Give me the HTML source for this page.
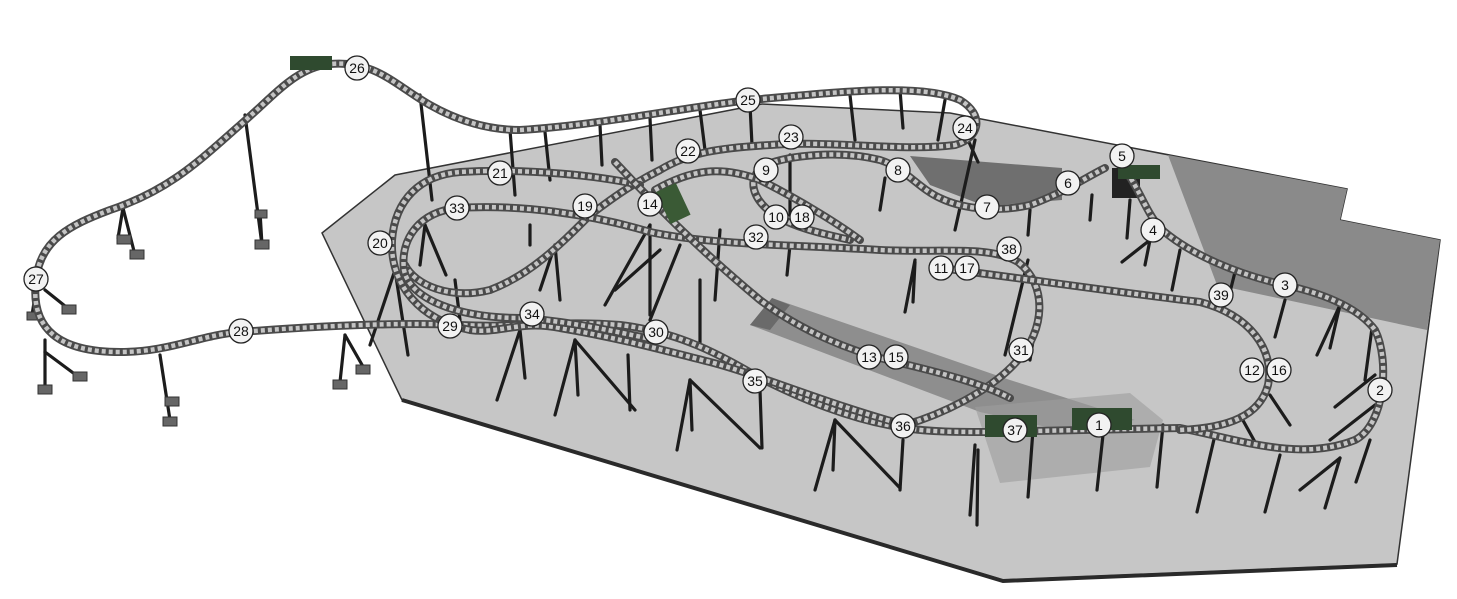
<!DOCTYPE html>
<html><head><meta charset="utf-8"><style>
html,body{margin:0;padding:0;background:#fff;}
svg{display:block;}
.lbl circle{fill:#f2f2f2;stroke:#222;stroke-width:1.3;}
.lbl text{font-family:"Liberation Sans",sans-serif;font-size:14px;fill:#111;text-anchor:middle;dominant-baseline:central;}
.tb{fill:none;stroke:#4a4a4a;stroke-width:8;stroke-linecap:round;}
.tt{fill:none;stroke:#c4c4c4;stroke-width:4.5;stroke-dasharray:4 3;stroke-linecap:butt;}
.sp line{stroke:#1c1c1c;stroke-width:3.2;stroke-linecap:round;}
</style></head><body>
<svg width="1457" height="599" viewBox="0 0 1457 599" xmlns="http://www.w3.org/2000/svg">
<defs>
<path id="t1" d="M36,280 C40,240 70,225 110,210 C170,190 200,160 240,125 C275,95 295,68 330,64 C375,60 395,85 430,105 C460,122 490,130 520,130 C600,125 680,108 750,100 C830,93 920,82 960,100 C985,115 980,138 955,145 C900,152 830,140 770,145 C720,148 690,152 660,170 C630,185 610,200 590,215 C560,245 530,275 490,290 C450,300 415,285 405,265"/>
<path id="t2" d="M36,280 C30,330 60,352 120,352 C170,352 200,335 240,332 C320,326 400,322 460,325 C520,328 560,320 620,325 C680,332 720,355 760,378 C800,398 850,420 905,428 C930,432 960,432 985,432 L1180,428 C1240,440 1300,462 1355,440 C1385,425 1390,360 1375,330 C1360,310 1330,295 1285,285 C1240,275 1190,255 1160,228 C1145,210 1140,190 1125,170"/>
<path id="t3" d="M1105,168 C1085,178 1065,192 1030,205 C1000,212 965,210 940,198 C918,188 905,168 880,160 C840,150 790,155 765,165 C745,178 752,200 776,216 C800,230 830,235 850,240"/>
<path id="t4" d="M640,185 C600,176 530,168 460,172 C420,175 395,200 392,240 C390,285 420,320 470,330 C500,334 520,320 560,328 C620,338 670,352 710,362 C760,375 830,405 905,425"/>
<path id="t5" d="M457,208 C420,212 400,238 404,270 C410,300 460,318 520,318 C560,320 610,330 655,340"/>
<path id="t6" d="M457,208 C520,204 590,214 650,232 C710,245 800,245 880,250 C940,253 990,245 1018,262 C1048,285 1045,330 1018,360 C990,392 940,415 905,425"/>
<path id="t7" d="M940,268 C1020,278 1100,290 1200,302 C1250,315 1275,350 1268,385 C1260,415 1230,428 1180,430"/>
<path id="t8" d="M615,162 C660,210 700,250 760,300 C800,330 850,352 900,363 C950,375 985,385 1010,398"/>
<path id="t9" d="M655,190 C690,170 720,165 760,180 C800,200 840,225 860,240"/>
</defs>
<!-- floor -->
<polygon points="395,175 762,104 950,113 1347,189 1340,220 1440,240 1397,564 1003,580 402,400 322,233" fill="#c6c6c6" stroke="#333" stroke-width="1.5"/>
<polyline points="402,400 1003,581 1397,565" fill="none" stroke="#2a2a2a" stroke-width="4"/>
<polygon points="1168,155 1347,189 1340,220 1440,240 1427,330 1240,290 1217,285" fill="#8a8a8a"/>
<polygon points="910,156 1062,168 1062,200 985,206 930,185" fill="#6f6f6f"/>
<polygon points="750,325 772,298 1010,380 1135,420 1060,430 980,412" fill="#8e8e8e"/>
<polygon points="750,325 772,298 790,305 770,330" fill="#6a6a6a"/>
<polygon points="975,407 1130,393 1163,420 1150,467 1000,483" fill="#9c9c9c" opacity="0.6"/>
<rect x="1112" y="168" width="28" height="30" fill="#222"/>
<!-- supports -->
<g class="sp">
<line x1="245" y1="115" x2="262" y2="245"/><line x1="262" y1="245" x2="260" y2="212"/>
<line x1="420" y1="95" x2="432" y2="200"/><line x1="123" y1="208" x2="135" y2="255"/><line x1="123" y1="208" x2="118" y2="238"/>
<line x1="45" y1="290" x2="70" y2="310"/><line x1="36" y1="290" x2="32" y2="315"/>
<line x1="45" y1="340" x2="45" y2="390"/><line x1="45" y1="352" x2="80" y2="378"/>
<line x1="160" y1="355" x2="170" y2="420"/><line x1="345" y1="335" x2="340" y2="382"/><line x1="345" y1="335" x2="365" y2="370"/>
<line x1="510" y1="130" x2="515" y2="195"/><line x1="545" y1="132" x2="550" y2="180"/><line x1="600" y1="125" x2="602" y2="165"/>
<line x1="650" y1="118" x2="652" y2="160"/><line x1="700" y1="110" x2="705" y2="150"/><line x1="750" y1="105" x2="752" y2="145"/>
<line x1="850" y1="95" x2="855" y2="140"/><line x1="900" y1="90" x2="903" y2="128"/><line x1="945" y1="100" x2="938" y2="140"/>
<line x1="975" y1="140" x2="955" y2="230"/><line x1="968" y1="140" x2="978" y2="162"/>
<line x1="790" y1="155" x2="790" y2="215"/><line x1="885" y1="178" x2="880" y2="210"/><line x1="1030" y1="210" x2="1028" y2="235"/>
<line x1="1092" y1="195" x2="1090" y2="220"/><line x1="1130" y1="200" x2="1127" y2="238"/>
<line x1="1150" y1="240" x2="1122" y2="262"/><line x1="1150" y1="240" x2="1145" y2="265"/>
<line x1="1180" y1="250" x2="1172" y2="290"/><line x1="1235" y1="272" x2="1228" y2="300"/>
<line x1="1285" y1="300" x2="1275" y2="337"/><line x1="1340" y1="305" x2="1317" y2="355"/><line x1="1340" y1="305" x2="1330" y2="348"/>
<line x1="1372" y1="328" x2="1365" y2="380"/><line x1="1375" y1="375" x2="1335" y2="407"/><line x1="1375" y1="405" x2="1330" y2="440"/>
<line x1="1370" y1="440" x2="1356" y2="482"/><line x1="1340" y1="458" x2="1300" y2="490"/><line x1="1340" y1="458" x2="1325" y2="508"/>
<line x1="1280" y1="455" x2="1265" y2="512"/><line x1="1270" y1="395" x2="1290" y2="425"/><line x1="1240" y1="415" x2="1255" y2="442"/>
<line x1="1215" y1="435" x2="1197" y2="512"/><line x1="1163" y1="425" x2="1157" y2="487"/><line x1="1103" y1="435" x2="1097" y2="490"/>
<line x1="1033" y1="430" x2="1028" y2="497"/><line x1="975" y1="445" x2="970" y2="515"/><line x1="978" y1="450" x2="977" y2="525"/>
<line x1="1040" y1="295" x2="1030" y2="360"/><line x1="1028" y1="260" x2="1005" y2="355"/>
<line x1="915" y1="260" x2="905" y2="312"/><line x1="915" y1="262" x2="913" y2="302"/>
<line x1="790" y1="245" x2="787" y2="275"/><line x1="720" y1="230" x2="715" y2="300"/>
<line x1="650" y1="225" x2="605" y2="305"/><line x1="650" y1="225" x2="650" y2="315"/><line x1="660" y1="250" x2="615" y2="290"/>
<line x1="680" y1="245" x2="650" y2="320"/><line x1="700" y1="280" x2="700" y2="345"/>
<line x1="555" y1="245" x2="540" y2="290"/><line x1="555" y1="245" x2="560" y2="300"/>
<line x1="530" y1="225" x2="530" y2="245"/><line x1="455" y1="280" x2="460" y2="320"/>
<line x1="395" y1="270" x2="370" y2="345"/><line x1="395" y1="270" x2="408" y2="355"/>
<line x1="425" y1="225" x2="420" y2="265"/><line x1="425" y1="225" x2="446" y2="275"/>
<line x1="520" y1="330" x2="497" y2="400"/><line x1="520" y1="330" x2="525" y2="378"/>
<line x1="575" y1="340" x2="555" y2="415"/><line x1="575" y1="340" x2="578" y2="395"/><line x1="575" y1="340" x2="635" y2="410"/>
<line x1="628" y1="355" x2="630" y2="410"/>
<line x1="690" y1="380" x2="677" y2="450"/><line x1="690" y1="380" x2="692" y2="430"/><line x1="690" y1="380" x2="760" y2="448"/>
<line x1="760" y1="390" x2="762" y2="448"/>
<line x1="835" y1="420" x2="815" y2="490"/><line x1="835" y1="420" x2="833" y2="470"/><line x1="835" y1="420" x2="900" y2="488"/>
<line x1="903" y1="440" x2="900" y2="490"/>
</g>
<!-- support feet -->
<g fill="#666" stroke="#333" stroke-width="1">
<rect x="117" y="235" width="14" height="9"/><rect x="130" y="250" width="14" height="9"/>
<rect x="255" y="240" width="14" height="9"/><rect x="255" y="210" width="12" height="8"/>
<rect x="62" y="305" width="14" height="9"/><rect x="27" y="312" width="12" height="8"/>
<rect x="38" y="385" width="14" height="9"/><rect x="73" y="372" width="14" height="9"/>
<rect x="163" y="417" width="14" height="9"/><rect x="165" y="397" width="14" height="9"/>
<rect x="333" y="380" width="14" height="9"/><rect x="356" y="365" width="14" height="9"/>
</g>
<use href="#t1" class="tb"/><use href="#t1" class="tt"/>
<use href="#t2" class="tb"/><use href="#t2" class="tt"/>
<use href="#t3" class="tb"/><use href="#t3" class="tt"/>
<use href="#t4" class="tb"/><use href="#t4" class="tt"/>
<use href="#t5" class="tb"/><use href="#t5" class="tt"/>
<use href="#t6" class="tb"/><use href="#t6" class="tt"/>
<use href="#t7" class="tb"/><use href="#t7" class="tt"/>
<use href="#t8" class="tb"/><use href="#t8" class="tt"/>
<use href="#t9" class="tb"/><use href="#t9" class="tt"/>
<!-- trains -->
<rect x="290" y="56" width="42" height="14" fill="#2f4a2f"/>
<rect x="662" y="186" width="22" height="35" fill="#3a5a35" transform="rotate(-25 673 203)"/>
<rect x="1118" y="165" width="42" height="14" fill="#2f4a2f"/>
<rect x="985" y="415" width="52" height="22" fill="#2f4a2f"/>
<rect x="1072" y="408" width="60" height="22" fill="#2f4a2f"/>
<g class="lbl">
<g transform="translate(357,68)"><circle r="12"/><text>26</text></g>
<g transform="translate(748,100)"><circle r="12"/><text>25</text></g>
<g transform="translate(965,128)"><circle r="12"/><text>24</text></g>
<g transform="translate(791,137)"><circle r="12"/><text>23</text></g>
<g transform="translate(688,151)"><circle r="12"/><text>22</text></g>
<g transform="translate(500,173)"><circle r="12"/><text>21</text></g>
<g transform="translate(766,170)"><circle r="12"/><text>9</text></g>
<g transform="translate(898,170)"><circle r="12"/><text>8</text></g>
<g transform="translate(1122,156)"><circle r="12"/><text>5</text></g>
<g transform="translate(1068,183)"><circle r="12"/><text>6</text></g>
<g transform="translate(987,207)"><circle r="12"/><text>7</text></g>
<g transform="translate(585,206)"><circle r="12"/><text>19</text></g>
<g transform="translate(650,204)"><circle r="12"/><text>14</text></g>
<g transform="translate(457,208)"><circle r="12"/><text>33</text></g>
<g transform="translate(776,217)"><circle r="12"/><text>10</text></g>
<g transform="translate(802,217)"><circle r="12"/><text>18</text></g>
<g transform="translate(380,243)"><circle r="12"/><text>20</text></g>
<g transform="translate(756,237)"><circle r="12"/><text>32</text></g>
<g transform="translate(1153,230)"><circle r="12"/><text>4</text></g>
<g transform="translate(1009,249)"><circle r="12"/><text>38</text></g>
<g transform="translate(941,268)"><circle r="12"/><text>11</text></g>
<g transform="translate(967,268)"><circle r="12"/><text>17</text></g>
<g transform="translate(36,279)"><circle r="12"/><text>27</text></g>
<g transform="translate(1285,285)"><circle r="12"/><text>3</text></g>
<g transform="translate(1221,295)"><circle r="12"/><text>39</text></g>
<g transform="translate(532,314)"><circle r="12"/><text>34</text></g>
<g transform="translate(241,331)"><circle r="12"/><text>28</text></g>
<g transform="translate(450,326)"><circle r="12"/><text>29</text></g>
<g transform="translate(656,332)"><circle r="12"/><text>30</text></g>
<g transform="translate(1021,350)"><circle r="12"/><text>31</text></g>
<g transform="translate(869,357)"><circle r="12"/><text>13</text></g>
<g transform="translate(896,357)"><circle r="12"/><text>15</text></g>
<g transform="translate(1252,370)"><circle r="12"/><text>12</text></g>
<g transform="translate(1279,370)"><circle r="12"/><text>16</text></g>
<g transform="translate(755,381)"><circle r="12"/><text>35</text></g>
<g transform="translate(1380,390)"><circle r="12"/><text>2</text></g>
<g transform="translate(903,426)"><circle r="12"/><text>36</text></g>
<g transform="translate(1015,430)"><circle r="12"/><text>37</text></g>
<g transform="translate(1099,425)"><circle r="12"/><text>1</text></g>
</g>
</svg>
</body></html>
